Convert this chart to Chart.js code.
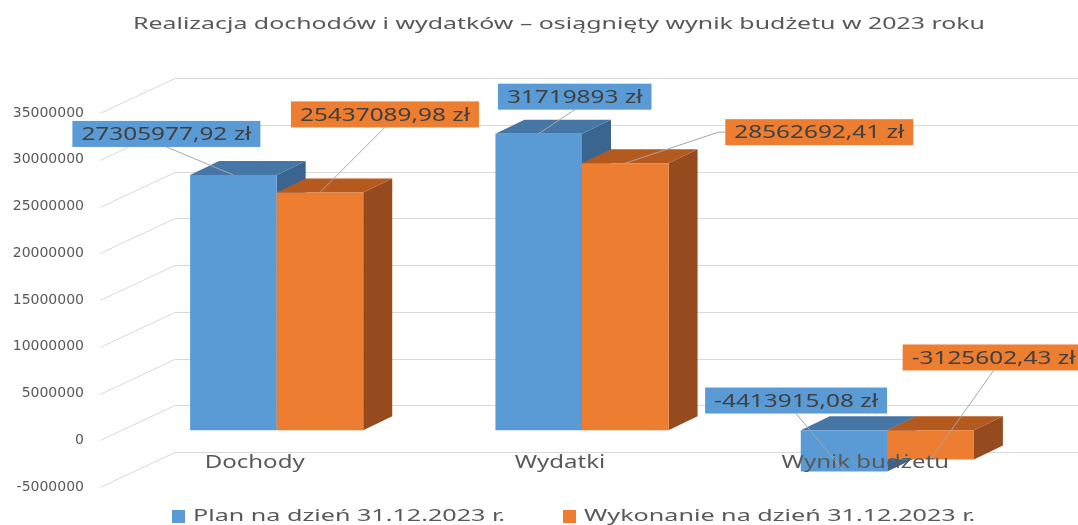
<!DOCTYPE html>
<html>
<head>
<meta charset="utf-8">
<script src="https://cdn.jsdelivr.net/npm/chart.js@4.4.0/dist/chart.umd.min.js"></script>
<style>
html,body{margin:0;padding:0;background:#ffffff;}
#wrap{width:1078px;height:525px;position:relative;overflow:hidden;background:#fff;}
</style>
</head>
<body>
<div id="wrap"><canvas id="c" width="1078" height="525"></canvas></div>
<script>
// ---- data ----
const TITLE = 'Realizacja dochodów i wydatków – osiągnięty wynik budżetu w 2023 roku';
const categories = ['Dochody', 'Wydatki', 'Wynik budżetu'];
const seriesNames = ['Plan na dzień 31.12.2023 r.', 'Wykonanie na dzień 31.12.2023 r.'];
const planValues = [27305977.92, 31719893, -4413915.08];
const executionValues = [25437089.98, 28562692.41, -3125602.43];
const yMin = -5000000;
const yMax = 35000000;
const yStep = 5000000;

// ---- styles ----
const FRONT = [{front:'#5B9BD5', top:'#4676A6', side:'#3B6591'},
               {front:'#ED7D31', top:'#B45A1F', side:'#964B1E'}];
const FRONT_OFF = {x:22, y:-10};   // bar front plane vs axis plane
const DEPTH = {x:29, y:-14};       // bar depth
const WALL = {x:75, y:-35};        // back wall vs axis plane
const GRID_COLOR = '#D9D9D9';
const TEXT_COLOR = '#595959';
const LABEL_TEXT = '#404040';
const LEADER = '#A6A6A6';
const labelLayout = [
  [{dx:-67, dy:-41, anchor:'bottom'}, {dx:36, dy:-37, anchor:'bottom'}, {dx:-48, dy:-71, anchor:'bottom'}],
  [{dx:65, dy:-78, anchor:'bottom'}, {dx:194, dy:-31, anchor:'left'}, {dx:63, dy:-102, anchor:'bottom'}]
];

function fmt(v){
  const s = Number.isInteger(v) ? String(v) : v.toFixed(2).replace('.', ',');
  return s + ' zł';
}

function drawStretched(ctx, text, x, y, font, sx, align, color){
  ctx.save();
  ctx.font = font;
  ctx.fillStyle = color;
  ctx.textBaseline = 'middle';
  ctx.textAlign = 'left';
  const w = ctx.measureText(text).width * sx;
  const left = align === 'center' ? x - w/2 : (align === 'right' ? x - w : x);
  ctx.translate(left, y);
  ctx.scale(sx, 1);
  ctx.fillText(text, 0, 0);
  ctx.restore();
  return w;
}
function measure(ctx, text, font){
  ctx.save(); ctx.font = font; const w = ctx.measureText(text).width; ctx.restore(); return w;
}
function poly(ctx, pts, color){
  ctx.beginPath();
  ctx.moveTo(pts[0][0], pts[0][1]);
  for (let i = 1; i < pts.length; i++) ctx.lineTo(pts[i][0], pts[i][1]);
  ctx.closePath();
  ctx.fillStyle = color;
  ctx.fill();
}

const threeD = {
  id: 'threeD',
  beforeDatasetsDraw(chart){
    const ctx = chart.ctx;
    const y = chart.scales.y;
    const left = chart.chartArea.left - 2;
    ctx.save();
    ctx.strokeStyle = GRID_COLOR;
    ctx.lineWidth = 1;
    y.ticks.forEach(t => {
      const py = Math.round(y.getPixelForValue(t.value)) + 0.5;
      ctx.beginPath();
      ctx.moveTo(left, py);
      ctx.lineTo(left + WALL.x, py + WALL.y);
      ctx.lineTo(chart.width, py + WALL.y);
      ctx.stroke();
    });
    ctx.restore();
  },
  beforeDatasetDraw(){ return false; },
  afterDatasetsDraw(chart){
    const ctx = chart.ctx;
    const metas = chart.data.datasets.map((d, i) => chart.getDatasetMeta(i));
    categories.forEach((c, ci) => {
      metas.forEach((meta, di) => {
        const el = meta.data[ci];
        const w = el.width;
        const l = el.x - w/2 + FRONT_OFF.x, r = el.x + w/2 + FRONT_OFF.x;
        const t = Math.min(el.y, el.base) + FRONT_OFF.y;
        const b = Math.max(el.y, el.base) + FRONT_OFF.y;
        const col = FRONT[di];
        poly(ctx, [[r, t], [r + DEPTH.x, t + DEPTH.y], [r + DEPTH.x, b + DEPTH.y], [r, b]], col.side);
        poly(ctx, [[l, t], [r, t], [r + DEPTH.x, t + DEPTH.y], [l + DEPTH.x, t + DEPTH.y]], col.top);
        poly(ctx, [[l, t], [r, t], [r, b], [l, b]], col.front);
      });
    });
    // category labels
    const catFont = '18px "Noto Sans"';
    const catSx = 100 / measure(ctx, categories[0], catFont);
    const xs = chart.scales.x;
    categories.forEach((c, ci) => {
      drawStretched(ctx, c, xs.getPixelForValue(ci), 463, catFont, catSx, 'center', TEXT_COLOR);
    });
    // data labels
    const lblFont = '18px "Noto Sans"';
    const lblSx = 170 / measure(ctx, fmt(planValues[0]), lblFont);
    const boxes = [];
    metas.forEach((meta, di) => {
      const vals = chart.data.datasets[di].data;
      meta.data.forEach((el, ci) => {
        const ex = el.x + FRONT_OFF.x, ey = el.y + FRONT_OFF.y;
        const L = labelLayout[di][ci];
        const txt = fmt(vals[ci]);
        const tw = measure(ctx, txt, lblFont) * lblSx;
        const bw = tw + 18, bh = 26;
        const cx = ex + L.dx, cy = ey + L.dy;
        const bx = cx - bw/2, by = cy - bh/2;
        ctx.save();
        ctx.strokeStyle = LEADER; ctx.lineWidth = 1;
        ctx.beginPath();
        if (L.anchor === 'left') {
          ctx.moveTo(bx, cy); ctx.lineTo(bx - 7, cy); ctx.lineTo(ex, ey);
        } else {
          ctx.moveTo(cx, by + bh); ctx.lineTo(ex, ey);
        }
        ctx.stroke();
        ctx.restore();
        boxes.push({bx, by, bw, bh, cx, cy, txt, color: FRONT[di].front});
      });
    });
    boxes.forEach(B => {
      ctx.fillStyle = B.color;
      ctx.fillRect(B.bx, B.by, B.bw, B.bh);
      drawStretched(ctx, B.txt, B.cx, B.cy + 1, lblFont, lblSx, 'center', LABEL_TEXT);
    });
  },
  afterDraw(chart){
    const ctx = chart.ctx;
    const tFont = '17px "Noto Sans"';
    const tSx = 852 / measure(ctx, TITLE, tFont);
    drawStretched(ctx, TITLE, 559, 24, tFont, tSx, 'center', TEXT_COLOR);
    const lFont = '17px "Noto Sans"';
    const lSx = 312 / measure(ctx, chart.data.datasets[0].label, lFont);
    const starts = [172, 563];
    chart.data.datasets.forEach((ds, i) => {
      const x0 = starts[i];
      ctx.fillStyle = ds.backgroundColor;
      ctx.fillRect(x0, 510, 13, 13);
      drawStretched(ctx, ds.label, x0 + 21, 516, lFont, lSx, 'left', TEXT_COLOR);
    });
  }
};

const chart = new Chart(document.getElementById('c').getContext('2d'), {
  type: 'bar',
  data: {
    labels: categories,
    datasets: [
      {label: seriesNames[0], data: planValues, backgroundColor: FRONT[0].front},
      {label: seriesNames[1], data: executionValues, backgroundColor: FRONT[1].front}
    ]
  },
  options: {
    responsive: false,
    animation: false,
    layout: {padding: {top: 113, right: 60, bottom: 38, left: 0}},
    datasets: {bar: {barPercentage: 1, categoryPercentage: 0.567}},
    plugins: {legend: {display: false}, title: {display: false}, tooltip: {enabled: false}},
    scales: {
      x: {display: false, offset: true},
      y: {
        min: yMin, max: yMax,
        afterFit(s){ s.width = 102; },
        border: {display: false},
        grid: {display: false, drawTicks: false},
        ticks: {stepSize: yStep, padding: 18, color: TEXT_COLOR,
                font: {family: 'DejaVu Sans', size: 14},
                callback: v => String(v)}
      }
    }
  },
  plugins: [threeD]
});
</script>
</body>
</html>
